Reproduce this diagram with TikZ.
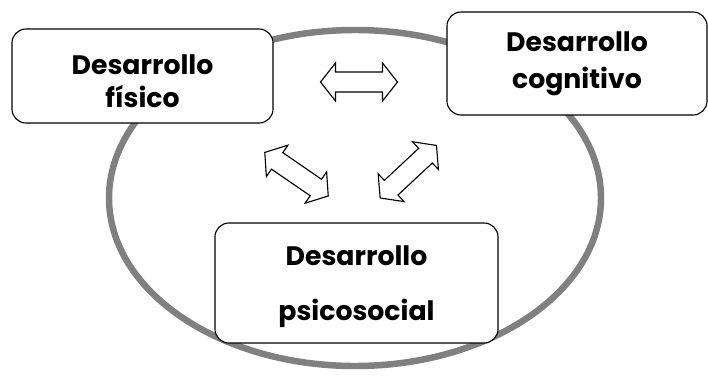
\documentclass[tikz,border=0pt]{standalone}
\usepackage{fontspec}
\setmainfont{Poppins}
\tikzset{
  etapa/.style={draw,line width=0.8pt,rounded corners=10pt,fill=white},
  texto/.style={align=center,font=\fontsize{19}{24}\selectfont\bfseries},
  flecha/.style={draw,line width=0.8pt,fill=white,line join=miter},
  dblarrow/.pic={\draw[flecha](-38.5,0)--(-23.5,19)--(-23.5,10)--(23.5,10)--(23.5,19)--(38.5,0)
    --(23.5,-19)--(23.5,-10)--(-23.5,-10)--(-23.5,-19)--cycle;}
}
\begin{document}
\begin{tikzpicture}[x=0.025cm,y=-0.025cm]
\useasboundingbox(0,0)rectangle(708,375);
\draw[gray,line width=4.6pt](355,198)ellipse[x radius=246,y radius=168];
\node[etapa,minimum width=6.525cm,minimum height=2.35cm,
  label={[texto,yshift=-0.13cm]center:Desarrollo\\físico}](fis)at(142.5,76){};
\node[etapa,minimum width=6.5cm,minimum height=2.575cm,
  label={[texto,yshift=0cm]center:Desarrollo\\[2.3pt]cognitivo}](cog)at(577,63.5){};
\node[etapa,minimum width=7.075cm,minimum height=3cm,
  label={[texto,yshift=-0.1cm]center:Desarrollo\\[15pt]psicosocial}](psi)at(356.5,283){};
\foreach \pos/\ang/\nom in {(359,82)/0/fc,(296.5,174.2)/-34.5/fp,(408.3,171.7)/43/cp}
  \pic[rotate=\ang](\nom)at\pos{dblarrow};
\end{tikzpicture}
\end{document}
